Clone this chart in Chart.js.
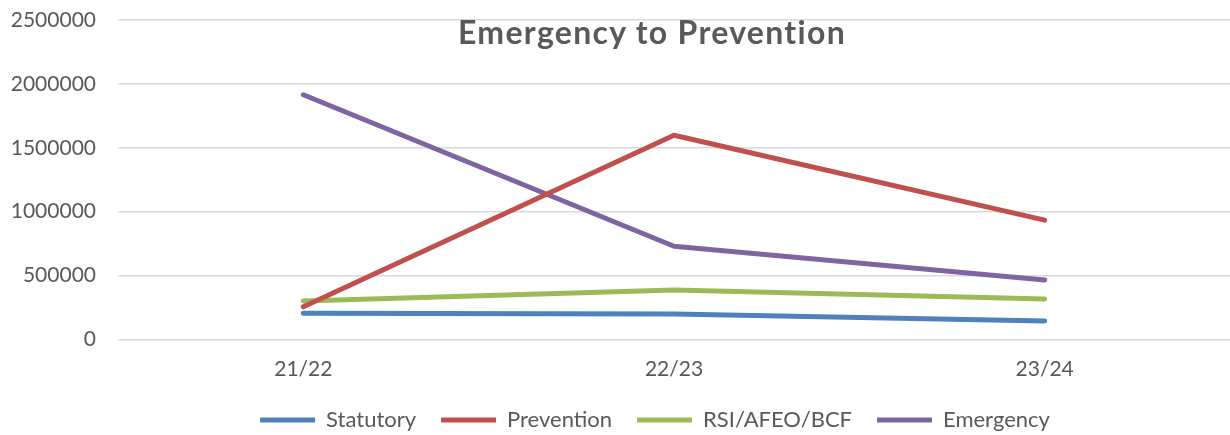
<!DOCTYPE html>
<html>
<head>
<meta charset="utf-8">
<script src="https://cdn.jsdelivr.net/npm/chart.js@4.4.1/dist/chart.umd.min.js"></script>
<style>
    html, body { margin: 0; padding: 0; background: #fff; }
    #wrap { position: relative; width: 1230px; height: 435px; }
    #title {
        position: absolute; left: 652px; top: 12px; transform: translateX(-50%);
        font-family: Lato, "Liberation Sans", sans-serif; font-weight: bold; font-size: 32px;
        letter-spacing: 1.3px; color: #595959; white-space: nowrap;
    }
</style>
</head>
<body>
<div id="wrap">
    <canvas id="chart" width="1230" height="435"></canvas>
    <div id="title">Emergency to Prevention</div>
</div>
<script>
const years = ['21/22', '22/23', '23/24'];
const statutory = [205000, 199000, 145000];
const prevention = [256000, 1598000, 934000];
const rsiAfeoBcf = [301000, 387000, 316000];
const emergency = [1915000, 730000, 465000];
const yTicks = [0, 500000, 1000000, 1500000, 2000000, 2500000];

const textColor = '#595959';
const fontFamily = 'Lato, "Liberation Sans", sans-serif';

// one line per series, same look for all
function series(label, data, color) {
    return {
        label: label,
        data: data,
        borderColor: color,
        backgroundColor: color,
        borderWidth: 5,
        borderCapStyle: 'round',
        borderJoinStyle: 'round',
        pointRadius: 0,
        pointStyle: 'line',
        tension: 0
    };
}

// excel centres the legend under the plot, not the whole canvas
const legendShift = {
    id: 'legendShift',
    afterLayout(chart) {
        if (chart.legend) chart.legend.left += 80;
    }
};

new Chart(document.getElementById('chart'), {
    type: 'line',
    data: {
        labels: years,
        datasets: [
            series('Statutory', statutory, '#4F81BD'),
            series('Prevention', prevention, '#C0504D'),
            series('RSI/AFEO/BCF', rsiAfeoBcf, '#9BBB59'),
            series('Emergency', emergency, '#8064A2')
        ]
    },
    plugins: [legendShift],
    options: {
        responsive: false,
        animation: false,
        layout: { padding: { top: 20, right: 0, bottom: -6, left: 0 } },
        plugins: {
            tooltip: { enabled: false },
            legend: {
                position: 'bottom',
                labels: {
                    usePointStyle: true,
                    pointStyleWidth: 55,
                    padding: 25,
                    color: textColor,
                    font: { family: fontFamily, size: 22 }
                }
            }
        },
        scales: {
            x: {
                offset: true,
                grid: { display: false },
                border: { display: false },
                ticks: { color: textColor, font: { family: fontFamily, size: 21 }, padding: 9 },
                afterFit: (scale) => { scale.height = 44.5; }
            },
            y: {
                min: 0,
                max: 2500000,
                afterBuildTicks: (scale) => { scale.ticks = yTicks.map(v => ({ value: v })); },
                grid: { color: '#d9d9d9', lineWidth: 1.5, drawTicks: false },
                border: { display: false },
                ticks: {
                    color: textColor, font: { family: fontFamily, size: 21 }, padding: 22,
                    callback: (v) => String(v)
                },
                afterFit: (scale) => {
                    scale.width = 118;
                    scale.paddingTop = 0;
                    scale.paddingBottom = 0;
                }
            }
        }
    }
});
</script>
</body>
</html>
